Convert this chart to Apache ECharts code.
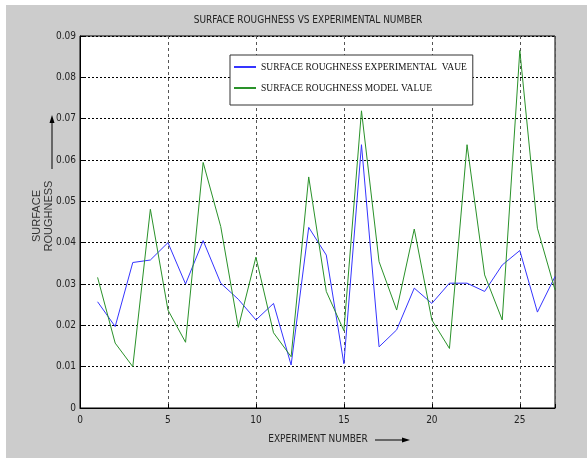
<!DOCTYPE html>
<html><head><meta charset="utf-8">
<script src="https://cdn.jsdelivr.net/npm/echarts@6/dist/echarts.min.js"></script>
<style>html,body{margin:0;padding:0;background:#fff}#c{width:587px;height:458px}</style>
</head><body><div id="c"></div>
<script>
const experiments = [1,2,3,4,5,6,7,8,9,10,11,12,13,14,15,16,17,18,19,20,21,22,23,24,25,26,27];
const experimentalValues = [0.0257,0.0197,0.0352,0.0358,0.0400,0.0300,0.0405,0.0302,0.0263,0.0213,0.0253,0.0104,0.0437,0.0370,0.0107,0.0637,0.0148,0.0189,0.0290,0.0253,0.0302,0.0302,0.0282,0.0346,0.0381,0.0232,0.0318];
const modelValues = [0.0316,0.0157,0.0100,0.0481,0.0237,0.0159,0.0594,0.0439,0.0195,0.0365,0.0182,0.0124,0.0559,0.0282,0.0187,0.0719,0.0354,0.0237,0.0433,0.0213,0.0144,0.0637,0.0322,0.0213,0.0865,0.0435,0.0286];
const xTicks = [0,5,10,15,20,25];
const yTicks = ['0','0.01','0.02','0.03','0.04','0.05','0.06','0.07','0.08','0.09'];

const narrow = '"Liberation Sans Narrow","DejaVu Sans Condensed",sans-serif';
const chart = echarts.init(document.getElementById('c'));
chart.setOption({
  animation: false,
  backgroundColor: '#ffffff',
  graphic: [
    {type:'rect', z:-10, shape:{x:6,y:5,width:581,height:453}, style:{fill:'#cccccc'}},
    {type:'text', x:308, y:20, style:{text:'SURFACE ROUGHNESS VS EXPERIMENTAL NUMBER', font:'10px '+narrow, fill:'#222', align:'center', verticalAlign:'middle'}},
    {type:'text', x:43, y:216, rotation:Math.PI/2, style:{text:'SURFACE\nROUGHNESS', font:'11px "Liberation Sans",Arial,sans-serif', fill:'#333', align:'center', verticalAlign:'middle', lineHeight:12}},
    {type:'line', shape:{x1:52,y1:169,x2:52,y2:121}, style:{stroke:'#000',lineWidth:1}},
    {type:'polygon', shape:{points:[[52,115],[49.5,123],[54.5,123]]}, style:{fill:'#000'}},
    {type:'text', x:318, y:439, style:{text:'EXPERIMENT NUMBER', font:'10px '+narrow, fill:'#222', align:'center', verticalAlign:'middle'}},
    {type:'line', shape:{x1:375,y1:440,x2:404,y2:440}, style:{stroke:'#000',lineWidth:1}},
    {type:'polygon', shape:{points:[[410,440],[402,437.5],[402,442.5]]}, style:{fill:'#000'}}
  ],
  legend: {
    left: 230, top: 55, orient: 'vertical',
    backgroundColor: '#ffffff', borderColor: '#333', borderWidth: 1,
    padding: [7, 6, 12, 4], itemGap: 11,
    itemWidth: 22, itemHeight: 2, icon: 'rect',
    textStyle: {fontFamily: '"Liberation Serif","DejaVu Serif",serif', fontSize: 9.5, color: '#111'},
    data: ['SURFACE ROUGHNESS EXPERIMENTAL  VAUE', 'SURFACE ROUGHNESS MODEL VALUE']
  },
  grid: {left: 80, right: 32, top: 36, bottom: 50, show: true, backgroundColor: '#ffffff', borderColor: '#000', borderWidth: 1},
  xAxis: {
    type: 'value', min: 0, max: 27, interval: 5,
    axisLine: {show: true, lineStyle: {color: '#000'}},
    axisTick: {show: true, inside: true, length: 4, lineStyle: {color: '#000'}},
    axisLabel: {color: '#222', fontFamily: narrow, fontSize: 10, margin: 7,
      formatter: v => xTicks.indexOf(v) >= 0 ? String(v) : ''},
    splitLine: {show: true, lineStyle: {color: '#555', type: [3, 3], width: 1}}
  },
  yAxis: {
    type: 'value', min: 0, max: 0.09, interval: 0.01,
    axisLine: {show: true, lineStyle: {color: '#000'}},
    axisTick: {show: true, inside: true, length: 4, lineStyle: {color: '#000'}},
    axisLabel: {color: '#222', fontFamily: narrow, fontSize: 10, margin: 4,
      formatter: v => yTicks[Math.round(v * 100)]},
    splitLine: {show: true, lineStyle: {color: '#000', type: [2, 2], width: 1}}
  },
  series: [
    {name: 'SURFACE ROUGHNESS EXPERIMENTAL  VAUE', type: 'line', showSymbol: false, symbol: 'none',
     data: experiments.map((x, i) => [x, experimentalValues[i]]),
     lineStyle: {color: '#3535ff', width: 1}, itemStyle: {color: '#3535ff'}},
    {name: 'SURFACE ROUGHNESS MODEL VALUE', type: 'line', showSymbol: false, symbol: 'none',
     data: experiments.map((x, i) => [x, modelValues[i]]),
     lineStyle: {color: '#2a922a', width: 1}, itemStyle: {color: '#2a922a'}}
  ]
});
</script></body></html>
